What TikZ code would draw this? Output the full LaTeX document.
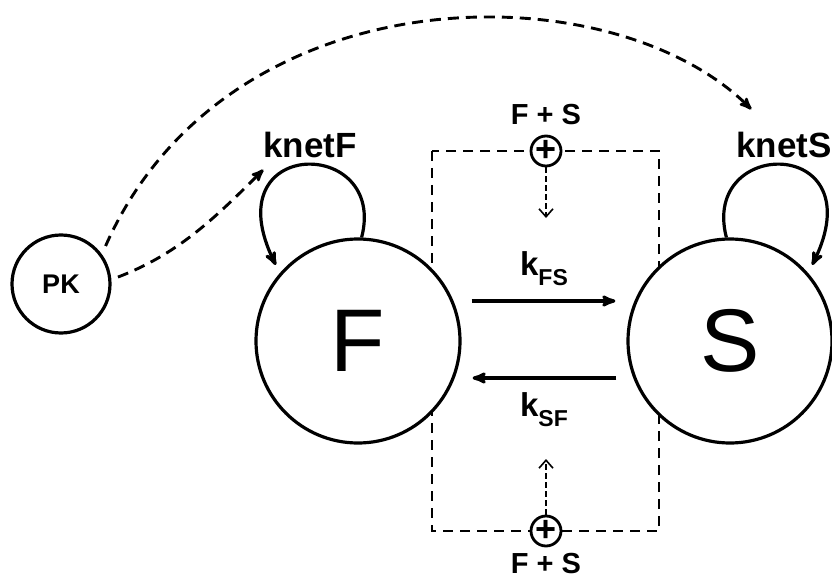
\documentclass[tikz,border=0pt]{standalone}
\usepackage{fontspec}
\setmainfont{Liberation Sans}
\usetikzlibrary{arrows,arrows.meta,automata}

\newcommand{\ratelabel}[1]{{\fontsize{33}{33}\selectfont k}\raisebox{-10pt}{\fontsize{23}{23}\selectfont #1}}

\begin{document}
\begin{tikzpicture}[->,>=stealth',shorten >=1pt,auto,node distance=372pt,
                        line width=3.2pt, x=1pt, y=-1pt, font=\bfseries]
      \tikzstyle{every state}=[fill=white,draw=black,text=black,inner sep=0pt,line width=3.2pt]
      \tikzstyle{pool}=[font=\fontsize{89}{89}\selectfont\mdseries,minimum size=204pt]
      \tikzstyle{plus}=[circle,draw,fill=white,inner sep=0pt,minimum size=30pt,line width=2.8pt,
                        font=\fontsize{36}{36}\selectfont\bfseries]
      \tikzstyle{sum}=[font=\fontsize{29}{29}\selectfont\bfseries]
      \tikzstyle{netrate}=[font=\fontsize{35}{35}\selectfont\bfseries]
      \tikzstyle{rate}=[line width=3.2pt]
      \tikzstyle{drive}=[dash pattern=on 11pt off 7pt,line width=2.9pt]
      \tikzstyle{feedback}=[-{Straight Barb[length=8pt,width=14pt,line width=1.6pt]},
                            dash pattern=on 6pt off 3pt,line width=1.6pt,shorten >=0pt]

      \useasboundingbox (0,0) rectangle (832,580);

      % box round the F + S feedback
      \draw[-,dash pattern=on 10pt off 7pt,line width=2.5pt] (432,151) rectangle (659,531);

      \node[state,pool] (F) at (358,341) {F};
      \node[state,pool] (S) [right of=F] {S};
      \node[state,minimum size=98pt,font=\fontsize{27}{27}\selectfont\bfseries] (PK) at (61,284) {PK};

      \node[plus] (plusT) at (546,151) {+};
      \node[plus] (plusB) at (546,531) {+};
      \node[sum] (sumT) [above of=plusT,node distance=36pt] {F + S};
      \node[sum] (sumB) [below of=plusB,node distance=33pt] {F + S};

      \node[netrate] (knetF) at (310,145) {knetF};
      \node[netrate] (knetS) at (784,145) {knetS};

      \coordinate (tipT) at (546,218);
      \coordinate (tipB) at (546,459);
      \coordinate (toF) at (264,169);
      \coordinate (toS) at (752,110);

      \draw[feedback] (plusT) -- (tipT);
      \draw[feedback] (plusB) -- (tipB);

      \draw[rate] ([xshift=10pt,yshift=40pt]F.east) -- node[above=14pt,inner sep=0pt] {\ratelabel{FS}}
                  ([xshift=-10pt,yshift=40pt]S.west);
      \draw[rate] ([xshift=-10pt,yshift=-37pt]S.west) -- node[below=13pt,inner sep=0pt] {\ratelabel{SF}}
                  ([xshift=10pt,yshift=-37pt]F.east);

      % net turnover loops
      \draw[rate,shorten >=9pt] (F.88) .. controls (388,136) and (212,136) .. (F.139);
      \draw[rate,shorten >=9pt] (S.92) .. controls (700,136) and (876,136) .. (S.41);

      % PK drives both
      \draw[drive,shorten <=9pt] (PK.36) .. controls (227,-29) and (611,-31) .. (toS);
      \draw[drive,shorten <=7pt] (PK.5) .. controls (178,254) and (214,219) .. (toF);

  \end{tikzpicture}
\end{document}
